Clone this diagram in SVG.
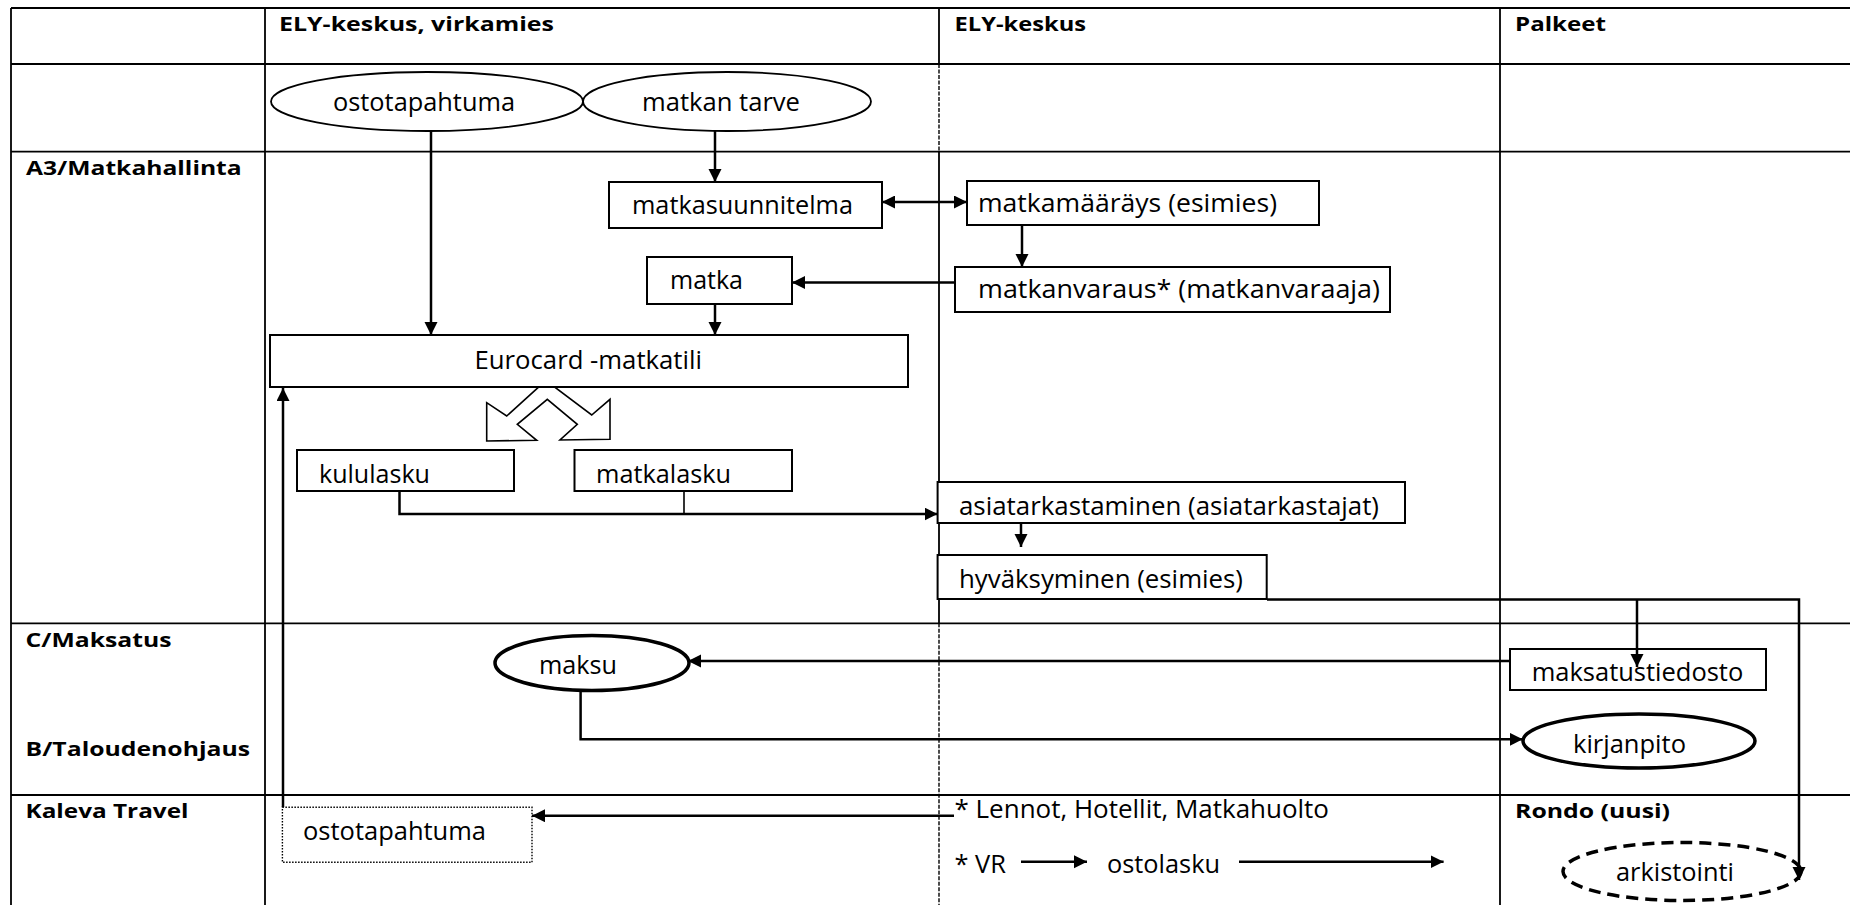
<svg xmlns="http://www.w3.org/2000/svg" width="1850" height="905" viewBox="0 0 1850 905">
  <style>
    .tbl { stroke: #000; stroke-width: 1.8; fill: none; }
    .tbl-dash { stroke: #000; stroke-width: 1.4; fill: none; stroke-dasharray: 4 1.5; }
    .box { fill: #fff; stroke: #000; stroke-width: 2; }
    .ell { fill: #fff; stroke: #000; stroke-width: 1.8; }
    .ell-thick { fill: #fff; stroke: #000; stroke-width: 3.5; }
    .ell-dash { fill: #fff; stroke: #000; stroke-width: 3.5; stroke-dasharray: 12 7; }
    .dotbox { fill: #fff; stroke: #000; stroke-width: 1.4; stroke-dasharray: 1.5 1.5; }
    .t { font-family: "Open Sans", "DejaVu Sans", sans-serif; font-size: 25px; fill: #000; }
    .b { font-family: "Open Sans", "DejaVu Sans", sans-serif; font-size: 20px; font-weight: bold; fill: #000; }
    .c { stroke: #000; stroke-width: 2.5; fill: none; }
    .c-thin { stroke: #000; stroke-width: 1.6; fill: none; }
    .fork { fill: #fff; stroke: #000; stroke-width: 1.6; stroke-linejoin: miter; }
  </style>
  <defs>
    <marker id="arrow" markerUnits="userSpaceOnUse" markerWidth="14" markerHeight="14" refX="13" refY="6.5" orient="auto">
      <path d="M0,0 L13,6.5 L0,13 z" fill="#000"/>
    </marker>
    <marker id="arrow-start" markerUnits="userSpaceOnUse" markerWidth="14" markerHeight="14" refX="0" refY="6.5" orient="auto">
      <path d="M13,0 L0,6.5 L13,13 z" fill="#000"/>
    </marker>
  </defs>

  <rect x="0" y="0" width="1850" height="905" fill="#fff"/>

  <!-- swimlane table -->
  <g id="table">
    <line class="tbl" x1="11" y1="8" x2="1850" y2="8"/>
    <line class="tbl" x1="11" y1="64" x2="1850" y2="64"/>
    <line class="tbl" x1="11" y1="151.7" x2="1850" y2="151.7"/>
    <line class="tbl" x1="11" y1="623.3" x2="1850" y2="623.3"/>
    <line class="tbl" x1="11" y1="795" x2="1850" y2="795"/>
    <line class="tbl" x1="11" y1="8" x2="11" y2="905"/>
    <line class="tbl" x1="265" y1="8" x2="265" y2="905"/>
    <line class="tbl" x1="939" y1="8" x2="939" y2="64"/>
    <line class="tbl-dash" x1="939" y1="64" x2="939" y2="151.7"/>
    <line class="tbl" x1="939" y1="151.7" x2="939" y2="623.3"/>
    <line class="tbl-dash" x1="939" y1="623.3" x2="939" y2="905"/>
    <line class="tbl" x1="1500" y1="8" x2="1500" y2="905"/>

    <text class="b" x="279" y="30.5" textLength="275" lengthAdjust="spacingAndGlyphs">ELY-keskus, virkamies</text>
    <text class="b" x="954.5" y="30.5" textLength="131.5" lengthAdjust="spacingAndGlyphs">ELY-keskus</text>
    <text class="b" x="1515" y="30.5" textLength="91" lengthAdjust="spacingAndGlyphs">Palkeet</text>
    <text class="b" x="26" y="174.5" textLength="215.7" lengthAdjust="spacingAndGlyphs">A3/Matkahallinta</text>
    <text class="b" x="25.5" y="647" textLength="146" lengthAdjust="spacingAndGlyphs">C/Maksatus</text>
    <text class="b" x="25.5" y="755.5" textLength="224.5" lengthAdjust="spacingAndGlyphs">B/Taloudenohjaus</text>
    <text class="b" x="25.5" y="817.5" textLength="163" lengthAdjust="spacingAndGlyphs">Kaleva Travel</text>
    <text class="b" x="1515" y="817.5" textLength="155" lengthAdjust="spacingAndGlyphs">Rondo (uusi)</text>
  </g>

  <!-- nodes -->
  <g id="ostotapahtuma">
    <ellipse class="ell" cx="427" cy="101.5" rx="156" ry="29.5"/>
    <text class="t" x="333" y="111" textLength="182" lengthAdjust="spacingAndGlyphs">ostotapahtuma</text>
  </g>
  <g id="matkan-tarve">
    <ellipse class="ell" cx="727" cy="101.5" rx="144" ry="29.5"/>
    <text class="t" x="642" y="111" textLength="158" lengthAdjust="spacingAndGlyphs">matkan tarve</text>
  </g>
  <g id="matkasuunnitelma">
    <rect class="box" x="609" y="182" width="273" height="46"/>
    <text class="t" x="632" y="214" textLength="221" lengthAdjust="spacingAndGlyphs">matkasuunnitelma</text>
  </g>
  <g id="matkamaarays">
    <rect class="box" x="967" y="181" width="352" height="44"/>
    <text class="t" x="978" y="212" textLength="299" lengthAdjust="spacingAndGlyphs">matkamääräys (esimies)</text>
  </g>
  <g id="matkanvaraus">
    <rect class="box" x="955" y="267" width="435" height="45"/>
    <text class="t" x="978" y="297.5" textLength="402" lengthAdjust="spacingAndGlyphs">matkanvaraus* (matkanvaraaja)</text>
  </g>
  <g id="matka">
    <rect class="box" x="647" y="257" width="145" height="47"/>
    <text class="t" x="670" y="289" textLength="73" lengthAdjust="spacingAndGlyphs">matka</text>
  </g>
  <g id="eurocard">
    <rect class="box" x="270" y="335" width="638" height="52"/>
    <text class="t" x="474.5" y="368.5" textLength="227.5" lengthAdjust="spacingAndGlyphs">Eurocard -matkatili</text>
  </g>
  <g id="kululasku">
    <rect class="box" x="297" y="450" width="217" height="41"/>
    <text class="t" x="319" y="483" textLength="111" lengthAdjust="spacingAndGlyphs">kululasku</text>
  </g>
  <g id="matkalasku">
    <rect class="box" x="574.5" y="450" width="217.5" height="41"/>
    <text class="t" x="596" y="483" textLength="135" lengthAdjust="spacingAndGlyphs">matkalasku</text>
  </g>
  <g id="asiatarkastaminen">
    <rect class="box" x="937.6" y="482" width="467.4" height="41"/>
    <text class="t" x="959" y="514.5" textLength="420" lengthAdjust="spacingAndGlyphs">asiatarkastaminen (asiatarkastajat)</text>
  </g>
  <g id="hyvaksyminen">
    <rect class="box" x="937.6" y="555" width="329.1" height="44"/>
    <text class="t" x="959" y="587.5" textLength="284" lengthAdjust="spacingAndGlyphs">hyväksyminen (esimies)</text>
  </g>
  <g id="maksatustiedosto">
    <rect class="box" x="1510" y="649" width="256" height="41"/>
    <text class="t" x="1531.7" y="680.5" textLength="211.6" lengthAdjust="spacingAndGlyphs">maksatustiedosto</text>
  </g>
  <g id="maksu">
    <ellipse class="ell-thick" cx="592" cy="663" rx="97" ry="27.5"/>
    <text class="t" x="539" y="673.5" textLength="78" lengthAdjust="spacingAndGlyphs">maksu</text>
  </g>
  <g id="kirjanpito">
    <ellipse class="ell-thick" cx="1639" cy="741" rx="116" ry="27"/>
    <text class="t" x="1573" y="752.5" textLength="113" lengthAdjust="spacingAndGlyphs">kirjanpito</text>
  </g>
  <g id="kaleva-ostotapahtuma">
    <rect class="dotbox" x="282.4" y="807.3" width="249.6" height="55"/>
    <text class="t" x="303" y="839.5" textLength="183" lengthAdjust="spacingAndGlyphs">ostotapahtuma</text>
  </g>
  <g id="ostot">
    <text class="t" x="954.5" y="818" textLength="374.5" lengthAdjust="spacingAndGlyphs">* Lennot, Hotellit, Matkahuolto</text>
    <text class="t" x="954.5" y="873" textLength="51.5" lengthAdjust="spacingAndGlyphs">* VR</text>
    <text class="t" x="1107" y="873" textLength="113" lengthAdjust="spacingAndGlyphs">ostolasku</text>
  </g>
  <g id="arkistointi">
    <ellipse class="ell-dash" cx="1682" cy="871.5" rx="119" ry="29"/>
    <text class="t" x="1616" y="881" textLength="118" lengthAdjust="spacingAndGlyphs">arkistointi</text>
  </g>

  <!-- connectors, drawn over the nodes -->
  <g id="connectors">
    <line class="c" x1="431" y1="131" x2="431" y2="335" marker-end="url(#arrow)"/>
    <line class="c" x1="715" y1="131" x2="715" y2="182" marker-end="url(#arrow)"/>
    <line class="c" x1="882" y1="202" x2="967" y2="202" marker-start="url(#arrow-start)" marker-end="url(#arrow)"/>
    <line class="c" x1="1022" y1="225" x2="1022" y2="267" marker-end="url(#arrow)"/>
    <line class="c" x1="955" y1="282.5" x2="792" y2="282.5" marker-end="url(#arrow)"/>
    <line class="c" x1="715" y1="304" x2="715" y2="335" marker-end="url(#arrow)"/>
    <polyline class="c" points="399.5,491 399.5,514 937.5,514" marker-end="url(#arrow)"/>
    <line class="c-thin" x1="684" y1="491" x2="684" y2="514"/>
    <line class="c" x1="1021" y1="523" x2="1021" y2="547" marker-end="url(#arrow)"/>
    <polyline class="c" points="1267,599.5 1799,599.5 1799,880" marker-end="url(#arrow)"/>
    <line class="c" x1="1637" y1="599.5" x2="1637" y2="667" marker-end="url(#arrow)"/>
    <line class="c" x1="1510" y1="661" x2="688" y2="661" marker-end="url(#arrow)"/>
    <polyline class="c" points="580.6,690 580.6,739.3 1522.7,739.3" marker-end="url(#arrow)"/>
    <line class="c" x1="954" y1="815.7" x2="532" y2="815.7" marker-end="url(#arrow)"/>
    <line class="c" x1="283" y1="807" x2="283" y2="388" marker-end="url(#arrow)"/>
    <line class="c" x1="1021" y1="861.7" x2="1087" y2="861.7" marker-end="url(#arrow)"/>
    <line class="c" x1="1239" y1="861.7" x2="1443.6" y2="861.7" marker-end="url(#arrow)"/>
    <!-- hollow fork splitting the account into two invoices -->
    <polygon class="fork" points="538.3,387.3 506.7,416 486.7,402.7 486.7,441 536.7,440.3 517.3,424.3 547.3,399.3 577.3,424.3 560,440 610,439.3 610,399.3 591.7,415 555,387.3"/>
  </g>
</svg>
